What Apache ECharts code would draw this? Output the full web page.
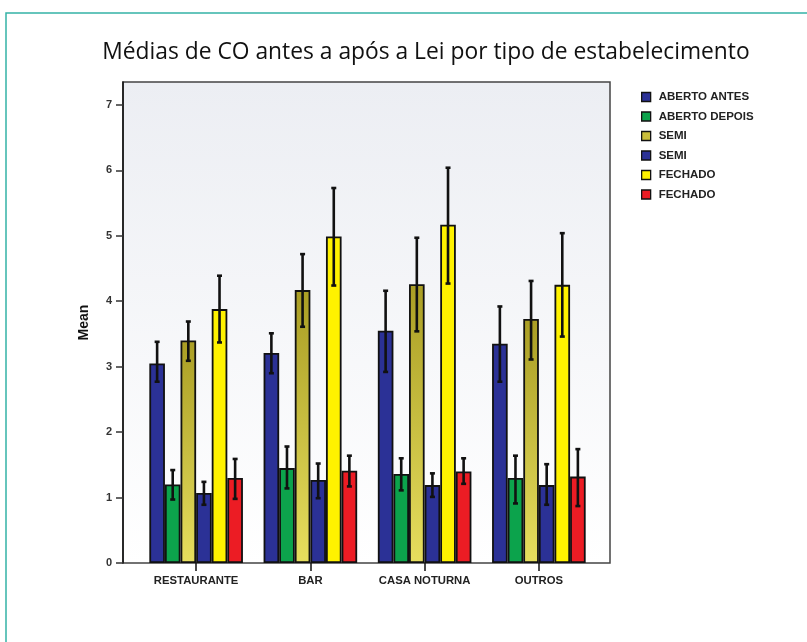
<!DOCTYPE html>
<html>
<head>
<meta charset="utf-8">
<script src="https://cdn.jsdelivr.net/npm/echarts@6/dist/echarts.min.js"></script>
<style>
html,body{margin:0;padding:0;background:#fff;}
#chart{width:807px;height:642px;}
</style>
</head>
<body>
<div id="chart"></div>
<script>
const categories = ['RESTAURANTE', 'BAR', 'CASA NOTURNA', 'OUTROS'];
const seriesNames = ['ABERTO ANTES', 'ABERTO DEPOIS', 'SEMI', 'SEMI ', 'FECHADO', 'FECHADO '];
const yTicks = [0, 1, 2, 3, 4, 5, 6, 7];

const abertoAntesMean = [3.05, 3.21, 3.55, 3.35];
const abertoAntesLow  = [2.77, 2.90, 2.92, 2.77];
const abertoAntesHigh = [3.38, 3.51, 4.16, 3.92];

const abertoDepoisMean = [1.20, 1.45, 1.36, 1.30];
const abertoDepoisLow  = [0.97, 1.14, 1.11, 0.91];
const abertoDepoisHigh = [1.42, 1.78, 1.60, 1.64];

const semiAntesMean = [3.40, 4.17, 4.26, 3.73];
const semiAntesLow  = [3.09, 3.61, 3.54, 3.11];
const semiAntesHigh = [3.69, 4.72, 4.97, 4.31];

const semiDepoisMean = [1.07, 1.27, 1.19, 1.19];
const semiDepoisLow  = [0.89, 0.99, 1.01, 0.89];
const semiDepoisHigh = [1.24, 1.52, 1.37, 1.51];

const fechadoAntesMean = [3.88, 4.99, 5.17, 4.25];
const fechadoAntesLow  = [3.37, 4.24, 4.27, 3.46];
const fechadoAntesHigh = [4.39, 5.73, 6.04, 5.04];

const fechadoDepoisMean = [1.30, 1.41, 1.40, 1.32];
const fechadoDepoisLow  = [0.98, 1.17, 1.21, 0.87];
const fechadoDepoisHigh = [1.59, 1.64, 1.60, 1.74];

const means = [abertoAntesMean, abertoDepoisMean, semiAntesMean, semiDepoisMean, fechadoAntesMean, fechadoDepoisMean];
const lows = [abertoAntesLow, abertoDepoisLow, semiAntesLow, semiDepoisLow, fechadoAntesLow, fechadoDepoisLow];
const highs = [abertoAntesHigh, abertoDepoisHigh, semiAntesHigh, semiDepoisHigh, fechadoAntesHigh, fechadoDepoisHigh];

const oliveGrad = new echarts.graphic.LinearGradient(0, 0, 0, 1, [
  {offset: 0, color: '#aa9e24'}, {offset: 1, color: '#e6de5e'}
]);
const colors = ['#2b3196', '#0ca34c', oliveGrad, '#2b3196', '#fff200', '#ec1c24'];
const legendColors = ['#2b3196', '#0ca34c', '#c9bd3a', '#2b3196', '#fff200', '#ec1c24'];

const BAR_W = 15.6;
const YMAX = 7.35;
const font = '"Liberation Sans", Arial, sans-serif';

const chart = echarts.init(document.getElementById('chart'), null, {renderer: 'canvas'});

const series = [];
seriesNames.forEach((name, k) => {
  series.push({
    name: name,
    type: 'bar',
    xAxisIndex: 1, yAxisIndex: 1,
    barWidth: BAR_W,
    barGap: '0%',
    data: means[k],
    itemStyle: {color: colors[k], borderColor: '#111', borderWidth: 1.8},
    emphasis: {disabled: true},
    z: 2
  });
});
seriesNames.forEach((name, k) => {
  series.push({
    type: 'custom',
    xAxisIndex: 1, yAxisIndex: 1,
    data: categories.map((c, i) => [i, lows[k][i], highs[k][i]]),
    z: 5,
    renderItem: function (params, api) {
      const i = api.value(0);
      const pLow = api.coord([i, api.value(1)]);
      const pHigh = api.coord([i, api.value(2)]);
      const x = pLow[0] + (k - 2.5) * BAR_W;
      const cap = 2.5;
      const st = {stroke: '#111', lineWidth: 2.6};
      return {
        type: 'group',
        children: [
          {type: 'line', shape: {x1: x, y1: pLow[1], x2: x, y2: pHigh[1]}, style: st},
          {type: 'line', shape: {x1: x - cap, y1: pLow[1], x2: x + cap, y2: pLow[1]}, style: st},
          {type: 'line', shape: {x1: x - cap, y1: pHigh[1], x2: x + cap, y2: pHigh[1]}, style: st}
        ]
      };
    }
  });
});

const option = {
  animation: false,
  backgroundColor: '#ffffff',
  title: {
    text: 'Médias de CO antes a após a Lei por tipo de estabelecimento',
    left: 421, top: 36, textAlign: 'center',
    textStyle: {fontFamily: '"Open Sans", sans-serif', fontSize: 22.8, fontWeight: 'normal', color: '#111'}
  },
  graphic: [{
    type: 'rect', silent: true, z: -10,
    shape: {x: 6, y: 13, width: 900, height: 700},
    style: {fill: 'none', stroke: '#35b3a7', lineWidth: 1.5}
  }],
  legend: {
    orient: 'vertical', left: 636, top: 86,
    itemWidth: 9, itemHeight: 9, itemGap: 7.5,
    icon: 'rect',
    data: seriesNames.map((n, k) => ({name: n, itemStyle: {color: legendColors[k], borderColor: '#111', borderWidth: 1.3}})),
    textStyle: {fontFamily: font, fontWeight: 'bold', fontSize: 11.5, color: '#222', lineHeight: 12, padding: [0, 0, 0, 3]},
    selectedMode: false
  },
  grid: [
    {left: 123, right: 197, top: 82, bottom: 79, show: true, borderColor: '#444', borderWidth: 1.5,
     backgroundColor: new echarts.graphic.LinearGradient(0, 0, 0, 1, [
       {offset: 0, color: '#eceef3'}, {offset: 1, color: '#ffffff'}])},
    {left: 139, right: 211, top: 82, bottom: 79}
  ],
  xAxis: [
    {type: 'value', gridIndex: 0, show: false, min: 0, max: 1},
    {type: 'category', gridIndex: 1, data: categories,
     axisLine: {show: false},
     axisTick: {show: true, alignWithLabel: true, length: 8, lineStyle: {color: '#111', width: 1.5}},
     axisLabel: {interval: 0, margin: 12, fontFamily: font, fontWeight: 'bold', fontSize: 11.3, color: '#222'}}
  ],
  yAxis: [
    {type: 'value', gridIndex: 0, min: 0, max: YMAX,
     name: 'Mean', nameLocation: 'middle', nameGap: 32, nameRotate: 90,
     nameTextStyle: {fontFamily: font, fontWeight: 'bold', fontSize: 14, color: '#111'},
     axisLine: {show: true, lineStyle: {color: '#111', width: 1.5}},
     axisTick: {show: true, length: 7, lineStyle: {color: '#333', width: 1.5}, customValues: yTicks},
     axisLabel: {margin: 11, fontFamily: font, fontWeight: 'bold', fontSize: 11, color: '#333', customValues: yTicks},
     splitLine: {show: false}},
    {type: 'value', gridIndex: 1, min: 0, max: YMAX, show: false, splitLine: {show: false}}
  ],
  series: series
};
chart.setOption(option);
</script>
</body>
</html>
